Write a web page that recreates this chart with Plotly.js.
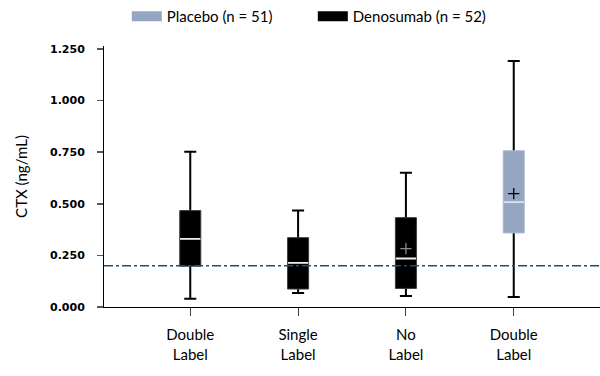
<!DOCTYPE html>
<html>
<head>
<meta charset="utf-8">
<script src="https://cdn.plot.ly/plotly-3.0.1.min.js"></script>
<style>html,body{margin:0;padding:0;background:#fff;}#chart{width:600px;height:376px;}</style>
</head>
<body>
<div id="chart"></div>
<script>
// ---- data ----
const categories = ["Double<br>Label", "Single<br>Label", "No<br>Label", "Double<br>Label"];
const groups = ["Denosumab", "Denosumab", "Denosumab", "Placebo"];
const lowerWhisker = [0.040, 0.068, 0.053, 0.048];
const q1Values = [0.198, 0.087, 0.090, 0.359];
const medianValues = [0.330, 0.214, 0.235, 0.508];
const q3Values = [0.467, 0.336, 0.433, 0.757];
const upperWhisker = [0.752, 0.468, 0.650, 1.192];
const meanValues = [null, null, 0.283, 0.549];
const referenceValue = 0.2;
const legendOrder = ["Placebo", "Denosumab"];
const legendNames = {Placebo: "Placebo (n = 51)", Denosumab: "Denosumab (n = 52)"};
const yTickValues = [0, 0.25, 0.5, 0.75, 1.0, 1.25];

// ---- styles ----
const fills = {Placebo: "#94a6c2", Denosumab: "#000000"};
const outline = {Placebo: "#a9b8ce", Denosumab: "#3c3c3c"};
const medianColor = {Placebo: "#dfe2e6", Denosumab: "#eeeeee"};
const meanColors = {Placebo: "#000000", Denosumab: "#8a8a8a"};
const boxWidth = 0.195;
const whiskerBoxWidth = 0.12;
const catIdx = categories.map((_, i) => i);

function pick(arr, g) { return catIdx.filter(i => groups[i] === g).map(i => arr[i]); }

const traces = [];
// legend-only swatches
legendOrder.forEach(g => {
  traces.push({
    type: "scatter", mode: "lines", x: [null], y: [null], name: legendNames[g],
    line: {color: fills[g], width: 14}, hoverinfo: "skip", showlegend: true
  });
});
["Denosumab", "Placebo"].forEach(g => {
  const xs = catIdx.filter(i => groups[i] === g);
  const med = pick(medianValues, g);
  // whiskers (black), collapsed box hidden under the body
  traces.push({
    type: "box", x: xs, q1: med, median: med, q3: med,
    lowerfence: pick(lowerWhisker, g), upperfence: pick(upperWhisker, g),
    fillcolor: fills[g], line: {color: "#000000", width: 2}, width: whiskerBoxWidth, whiskerwidth: 0.93,
    showlegend: false, hoverinfo: "skip"
  });
  // box body
  traces.push({
    type: "box", x: xs, q1: pick(q1Values, g), median: med, q3: pick(q3Values, g),
    lowerfence: pick(q1Values, g), upperfence: pick(q3Values, g),
    fillcolor: fills[g], line: {color: outline[g], width: 1}, width: boxWidth, whiskerwidth: 0,
    showlegend: false, hoverinfo: "skip"
  });
  // median line
  traces.push({
    type: "box", x: xs, q1: med, median: med, q3: med, lowerfence: med, upperfence: med,
    fillcolor: medianColor[g], line: {color: medianColor[g], width: 1.8}, width: boxWidth * 0.97, whiskerwidth: 0,
    showlegend: false, hoverinfo: "skip"
  });
  // means
  traces.push({
    type: "scatter", mode: "markers", x: xs, y: pick(meanValues, g),
    marker: {symbol: "cross-thin", size: 8, line: {color: meanColors[g], width: 1.3}},
    showlegend: false, hoverinfo: "skip"
  });
});

const layout = {
  width: 600, height: 376,
  margin: {l: 104, r: 0, t: 45, b: 69},
  paper_bgcolor: "#ffffff", plot_bgcolor: "#ffffff",
  boxmode: "overlay",
  showlegend: true,
  legend: {
    orientation: "h", x: 0.046, xanchor: "left", y: 1.178, yanchor: "top",
    font: {family: "Lato, 'Open Sans', sans-serif", size: 15, color: "#000"},
    entrywidth: 141, entrywidthmode: "pixels", traceorder: "normal"
  },
  xaxis: {
    range: [-0.8, 3.8], tickmode: "array", tickvals: catIdx, ticktext: categories,
    showgrid: false, zeroline: false, showline: true, linecolor: "#000", linewidth: 1,
    ticks: "outside", ticklen: 8, tickcolor: "#404040", tickwidth: 1, ticklabelstandoff: 6,
    tickfont: {family: "Lato, 'Open Sans', sans-serif", size: 15, color: "#000"}
  },
  yaxis: {
    range: [0, 1.2645], tickmode: "array", tickvals: yTickValues, tickformat: ".3f",
    showgrid: false, zeroline: false, showline: true, linecolor: "#000", linewidth: 1,
    ticks: "outside", ticklen: 6, tickcolor: "#595959", tickwidth: 1.5, ticklabelstandoff: 10,
    tickfont: {family: "'DejaVu Sans', sans-serif", size: 11, color: "#000", weight: "bold"},
    title: {text: "CTX (ng/mL)", font: {family: "Lato, 'Open Sans', sans-serif", size: 15, color: "#000"}, standoff: 18}
  },
  shapes: [{
    type: "line", xref: "paper", yref: "y", x0: 0, x1: 1, y0: referenceValue, y1: referenceValue,
    line: {color: "#1f4e79", width: 1.5, dash: "dashdot"}, layer: "above"
  }]
};

Plotly.newPlot("chart", traces, layout, {displayModeBar: false, staticPlot: true});
</script>
</body>
</html>
